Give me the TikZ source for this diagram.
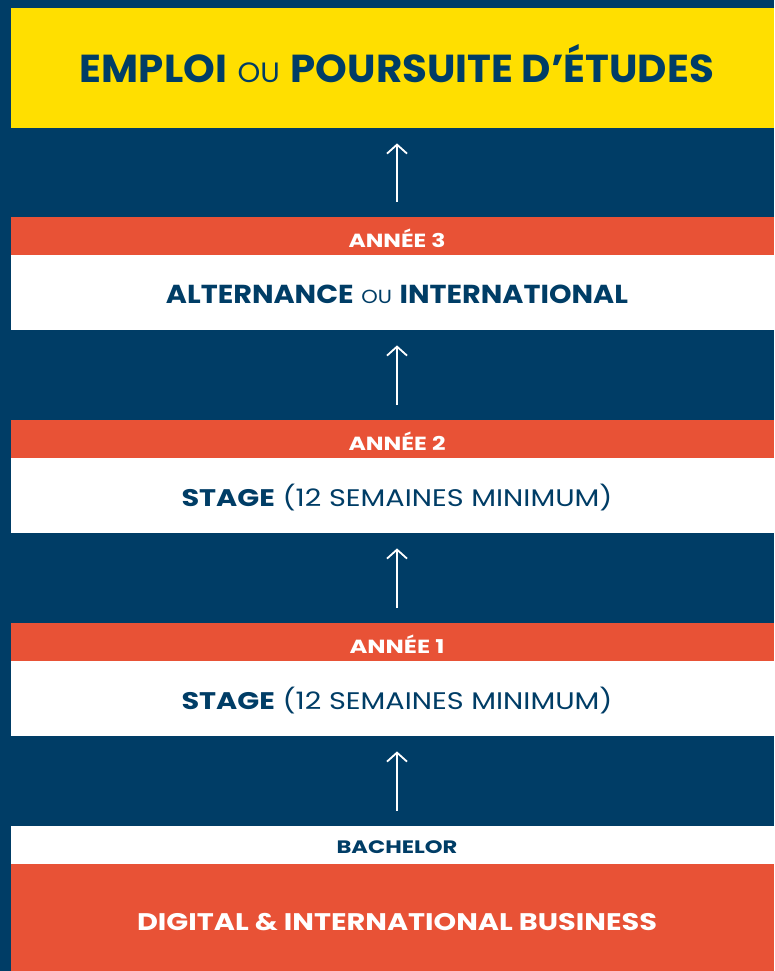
\documentclass[tikz,border=0pt]{standalone}
\usepackage{fontspec}
\usepackage{graphicx}
\setmainfont{Poppins}
\usetikzlibrary{arrows.meta}
\definecolor{navy}{HTML}{003D66}
\definecolor{sun}{HTML}{FFDF00}
\definecolor{coral}{HTML}{E85236}
\newcommand{\fitw}[2]{\resizebox{#1}{\height}{#2}}
\tikzset{
  band/.style={draw=none, inner sep=0pt, minimum width=763pt, anchor=north west},
  lbl/.style={inner sep=0pt, anchor=base},
  uparrow/.style={draw=white, line width=1.8pt, -{Straight Barb[length=9pt, width=20pt, line width=1.8pt]}, shorten <=15pt, shorten >=15pt},
}
\begin{document}
\begin{tikzpicture}[x=1pt, y=-1pt]
\fill[navy] (0,0) rectangle (774,971);
\useasboundingbox (0,0) rectangle (774,971);
% boxes
\node[band, fill=sun, minimum height=120pt] (goal) at (11,8) {};
\node[band, fill=coral, minimum height=38pt] (y3h) at (11,217) {};
\node[band, fill=white, minimum height=75pt] (y3b) at (11,255) {};
\node[band, fill=coral, minimum height=38pt] (y2h) at (11,420) {};
\node[band, fill=white, minimum height=75pt] (y2b) at (11,458) {};
\node[band, fill=coral, minimum height=38pt] (y1h) at (11,623) {};
\node[band, fill=white, minimum height=75pt] (y1b) at (11,661) {};
\node[band, fill=white, minimum height=38pt] (bh) at (11,826) {};
\node[band, fill=coral, minimum height=107pt] (bb) at (11,864) {};
% texts
\node[lbl, text=navy, font=\fontsize{39}{39}\selectfont] (tgoal) at (397,83)
  {\fitw{634pt}{\textbf{EMPLOI} {\fontsize{28}{28}\selectfont OU} \textbf{POURSUITE D’ÉTUDES}}};
\node[lbl, text=white, font=\fontsize{19}{19}\selectfont\bfseries] (ty3h) at (397,247) {\fitw{97pt}{ANNÉE 3}};
\node[lbl, text=navy, font=\fontsize{26}{26}\selectfont] (ty3b) at (397,303)
  {\fitw{462pt}{\textbf{ALTERNANCE} {\fontsize{19}{19}\selectfont OU} \textbf{INTERNATIONAL}}};
\node[lbl, text=white, font=\fontsize{19}{19}\selectfont\bfseries] (ty2h) at (397,450) {\fitw{97pt}{ANNÉE 2}};
\node[lbl, text=navy, font=\fontsize{24}{24}\selectfont] (ty2b) at (397,506)
  {\fitw{431pt}{\textbf{STAGE} (12 SEMAINES MINIMUM)}};
\node[lbl, text=white, font=\fontsize{19}{19}\selectfont\bfseries] (ty1h) at (397,653) {\fitw{95pt}{ANNÉE 1}};
\node[lbl, text=navy, font=\fontsize{24}{24}\selectfont] (ty1b) at (397,709)
  {\fitw{431pt}{\textbf{STAGE} (12 SEMAINES MINIMUM)}};
\node[lbl, text=navy, font=\fontsize{18}{18}\selectfont\bfseries] (tbh) at (397,853) {\fitw{121pt}{BACHELOR}};
\node[lbl, text=white, font=\fontsize{24}{24}\selectfont\bfseries] (tbb) at (397,930) {\fitw{520pt}{DIGITAL \& INTERNATIONAL BUSINESS}};
% arrows
\draw[uparrow] (y3h.north -| 397,0) -- (goal.south -| 397,0);
\draw[uparrow] (y2h.north -| 397,0) -- (y3b.south -| 397,0);
\draw[uparrow] (y1h.north -| 397,0) -- (y2b.south -| 397,0);
\draw[uparrow] (bh.north -| 397,0) -- (y1b.south -| 397,0);
\end{tikzpicture}
\end{document}
